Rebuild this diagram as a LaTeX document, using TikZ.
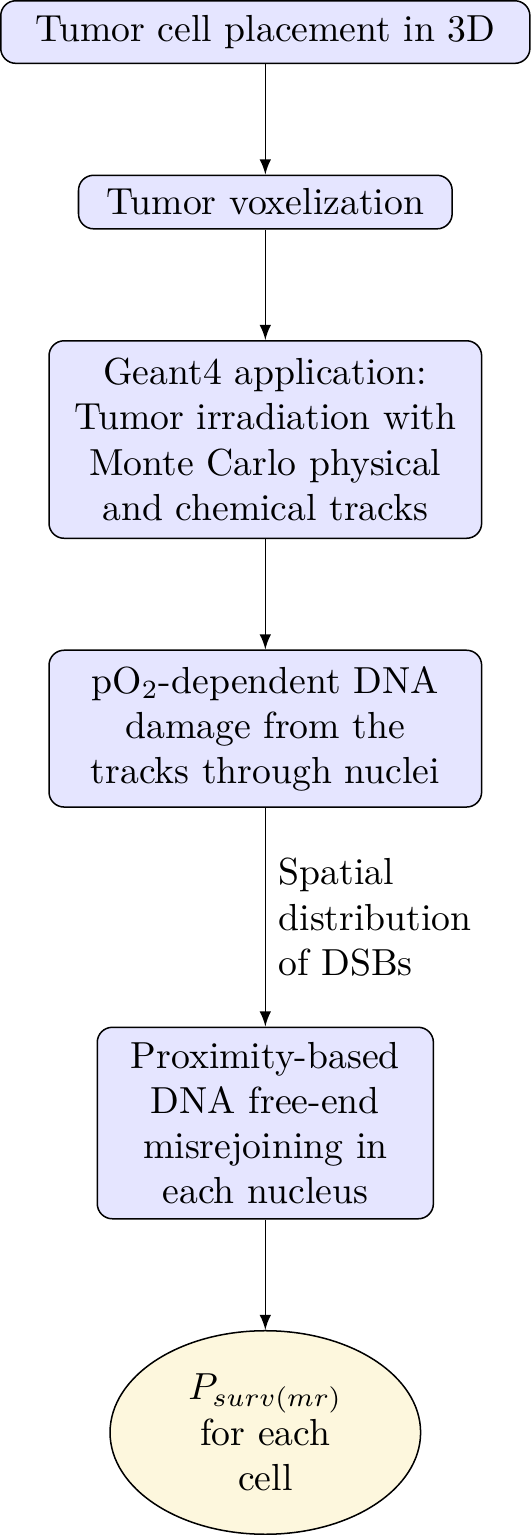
\documentclass[tikz,border=0pt]{standalone}
\usepackage{amsmath,amssymb}
\usepackage{xcolor}
\usepackage{tikz}
\usetikzlibrary{positioning,shapes.geometric}

\definecolor{cellcream}{RGB}{253,247,221}

\begin{document}
\begin{tikzpicture} [
    node distance=1.03cm,
    >=latex,
    box/.style={rectangle, draw, rounded corners, fill=blue!10, text centered},
    endcell/.style={ellipse, draw, fill=cellcream, text width=1.8cm, text centered, minimum width=82.4pt, minimum height=54pt}
]

% Main flow
\node[box, text width=4.7cm, minimum height=16.6pt] (placement) {Tumor cell placement in 3D};
\node[box, text width=3.25cm, minimum height=14.2pt, below=of placement] (voxel) {Tumor voxelization};
\node[box, text width=3.8cm, minimum height=52.4pt, below=of voxel] (geant) {Geant4 application:\\Tumor irradiation with\\Monte Carlo physical\\and chemical tracks};
\node[box, text width=3.8cm, minimum height=41.6pt, below=of geant] (damage) {pO$_2$-dependent DNA\\damage from the\\tracks through nuclei};
\node[box, text width=2.9cm, minimum height=50.8pt, below=2.04cm of damage] (rejoin) {Proximity-based\\DNA free-end\\misrejoining in\\each nucleus};
\node[endcell, below=of rejoin] (surv) {$P_{surv(mr)}$\\for each\\cell};

% Connections
\draw[->] (placement) -- (voxel);
\draw[->] (voxel) -- (geant);
\draw[->] (geant) -- (damage);
\draw[->] (damage) -- node[right, align=left] {Spatial\\distribution\\of DSBs} (rejoin);
\draw[->] (rejoin) -- (surv);

\end{tikzpicture}
\end{document}
